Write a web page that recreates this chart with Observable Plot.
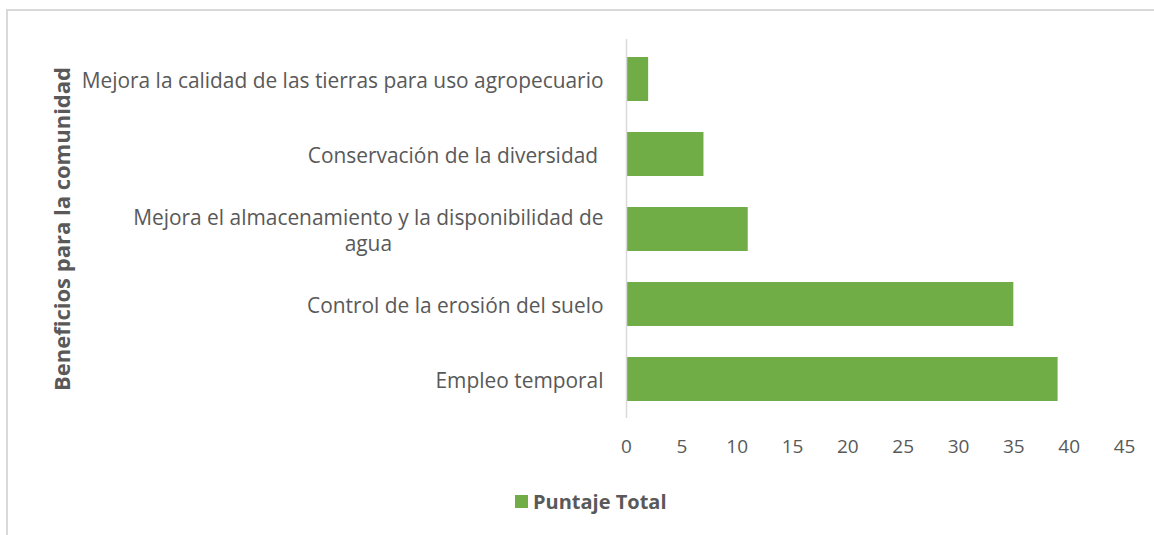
<!DOCTYPE html>
<html><head><meta charset="utf-8">
<script src="https://cdn.jsdelivr.net/npm/d3@7"></script>
<script src="https://cdn.jsdelivr.net/npm/@observablehq/plot@0.6"></script>
<style>
body{margin:0;background:#fff;font-family:"Open Sans", sans-serif;overflow:hidden;}
#frame{position:absolute;left:6px;top:9px;width:1200px;height:600px;border-top:2px solid #d9d9d9;border-left:2px solid #d9d9d9;}
#chart{position:absolute;left:0;top:0;}
#legend{position:absolute;left:515px;top:488px;display:flex;align-items:center;gap:5px;color:#595959;font-weight:bold;font-size:20px;font-family:"Open Sans", sans-serif;}
#legend .sw{width:13px;height:13px;background:#70AD47;}
</style></head>
<body>
<div id="frame"></div>
<div id="chart"></div>
<div id="legend"><div class="sw"></div><span id="legtxt"></span></div>
<script>
const categories = ["Mejora la calidad de las tierras para uso agropecuario", "Conservación de la diversidad ", "Mejora el almacenamiento y la disponibilidad de agua", "Control de la erosión del suelo", "Empleo temporal"];
const tickLabels = ["Mejora la calidad de las tierras para uso agropecuario", "Conservación de la diversidad ", "Mejora el almacenamiento y la disponibilidad de\nagua", "Control de la erosión del suelo", "Empleo temporal"];
const values = [2, 7, 11, 35, 39];
const xTicks = [0, 5, 10, 15, 20, 25, 30, 35, 40, 45];
const seriesName = "Puntaje Total";
const axisTitle = "Beneficios para la comunidad";

const data = categories.map((c, i) => ({category: c, value: values[i]}));
const labelOf = new Map(categories.map((c, i) => [c, tickLabels[i]]));
const GREEN = "#70AD47", GRAY = "#595959";
const FONT = "'Open Sans', sans-serif";

const chart = Plot.plot({
  width: 1154, height: 470,
  marginLeft: 626, marginRight: 30, marginTop: 39, marginBottom: 52,
  style: {fontFamily: FONT, color: GRAY, background: "transparent"},
  x: {domain: [0, 45]},
  y: {domain: categories, paddingInner: 0.42, paddingOuter: 0.21},
  marks: [
    Plot.barX(data, {x: "value", y: "category", fill: GREEN}),
    Plot.ruleX([0], {stroke: "#d9d9d9", strokeWidth: 1.5}),
    Plot.axisX({ticks: xTicks, tickSize: 0, tickPadding: 21, fontSize: 19, label: null, fill: GRAY}),
    Plot.axisY({tickSize: 0, tickPadding: 23, fontSize: 20.9, label: null, fill: GRAY, lineHeight: 1.25, tickFormat: d => labelOf.get(d)}),
    Plot.text([axisTitle], {frameAnchor: "left", dx: -564, rotate: -90, textAnchor: "middle", fontSize: 22, fontWeight: "bold", fill: GRAY, text: d => d})
  ]
});
document.getElementById("chart").appendChild(chart);
document.getElementById("legtxt").textContent = seriesName;

// center the wrapped second line like the original
chart.querySelectorAll("text").forEach(t => {
  const ts = t.querySelectorAll("tspan");
  if (ts.length === 2) {
    const w1 = ts[0].getComputedTextLength();
    const x0 = +(ts[0].getAttribute("x") || 0);
    ts[1].setAttribute("x", x0 - w1 / 2);
    ts[1].setAttribute("text-anchor", "middle");
  }
});
</script>
</body></html>
